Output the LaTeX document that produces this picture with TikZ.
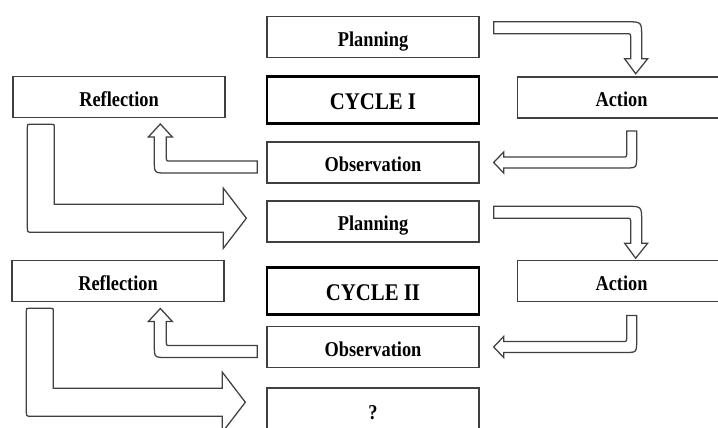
\documentclass[tikz,border=0pt]{standalone}
\usepackage{fontspec}
\setmainfont{Liberation Serif}
\newfontfamily\narrowfont{Liberation Serif}[FakeStretch=0.87]
\usepackage{xcolor}

\begin{document}
\begin{tikzpicture}[x=0.025cm, y=-0.025cm,
  box/.style={draw=black!75, line width=0.9pt, minimum width=5.3cm, minimum height=1.03cm, inner sep=0pt, text height=13pt, text depth=0pt, font={\narrowfont\bfseries\fontsize{15pt}{18pt}\selectfont}},
  cyc/.style={box, draw=black, line width=1.9pt, minimum height=1.17cm, font={\narrowfont\bfseries\fontsize{17pt}{20pt}\selectfont}},
  blk/.style={draw=black!75, line width=0.9pt, fill=white, line join=miter},
  plantoact/.pic={\draw[blk] (14,6) -- (147,6) .. controls (162,6) .. (162,21) -- (162,43) -- (168,43) -- (156,58) -- (145,43) -- (151,43) -- (151,22) .. controls (151,18) .. (147,18) -- (14,18) -- cycle;},
  acttoobs/.pic={\draw[blk] (147,-31.5) -- (157,-31.5) -- (157,-6.5) .. controls (157,5.5) .. (145,5.5) -- (24,5.5) -- (24,10.5) -- (14,0) -- (24,-10.5) -- (24,-5.5) -- (143,-5.5) .. controls (147,-5.5) .. (147,-9.5) -- cycle;},
  obstorefl/.pic={\draw[blk] (-9,-1.5) -- (-9,10.5) -- (-100,10.5) .. controls (-112,10.5) .. (-112,-1.5) -- (-112,-25.5) -- (-118,-25.5) -- (-106,-38.5) -- (-94,-25.5) -- (-100,-25.5) -- (-100,-5.5) .. controls (-100,-1.5) .. (-96,-1.5) -- cycle;},
  refltoplan/.pic={\draw[blk] (15,9) .. controls (15,6) .. (18,6) -- (39,6) .. controls (42,6) .. (42,9) -- (42,86) -- (211,86) -- (211,70) -- (234,100) -- (211,130) -- (211,114) -- (20,114) .. controls (15,114) .. (15,109) -- cycle;}
]
\useasboundingbox (0,0) rectangle (718,428);
\clip (0,0) rectangle (718,428);

% cycle I
\node[box] (plan1) at (373,37) {Planning};
\node[cyc] (cyc1) at (373,100) {CYCLE I};
\node[box] (obs1) at (373,162.5) {Observation};
\node[box] (refl1) at (119,97) {Reflection};
\node[box, minimum width=5.2cm] (act1) at (621.5,97.5) {Action};

\pic at (plan1.north east) {plantoact};
\pic at (obs1.east) {acttoobs};
\pic at (obs1.west) {obstorefl};
\pic at (refl1.south west) {refltoplan};

% cycle II
\node[box] (plan2) at (373,221.5) {Planning};
\node[cyc] (cyc2) at (373,291) {CYCLE II};
\node[box] (obs2) at (373,347) {Observation};
\node[box] (refl2) at (118,281) {Reflection};
\node[box, minimum width=5.2cm] (act2) at (621.5,281) {Action};
\node[box, minimum height=1.1cm] (next) at (373,410) {?};

\pic at (plan2.north east) {plantoact};
\pic at (obs2.east) {acttoobs};
\pic at (obs2.west) {obstorefl};
\pic at (refl2.south west) {refltoplan};
\end{tikzpicture}
\end{document}
